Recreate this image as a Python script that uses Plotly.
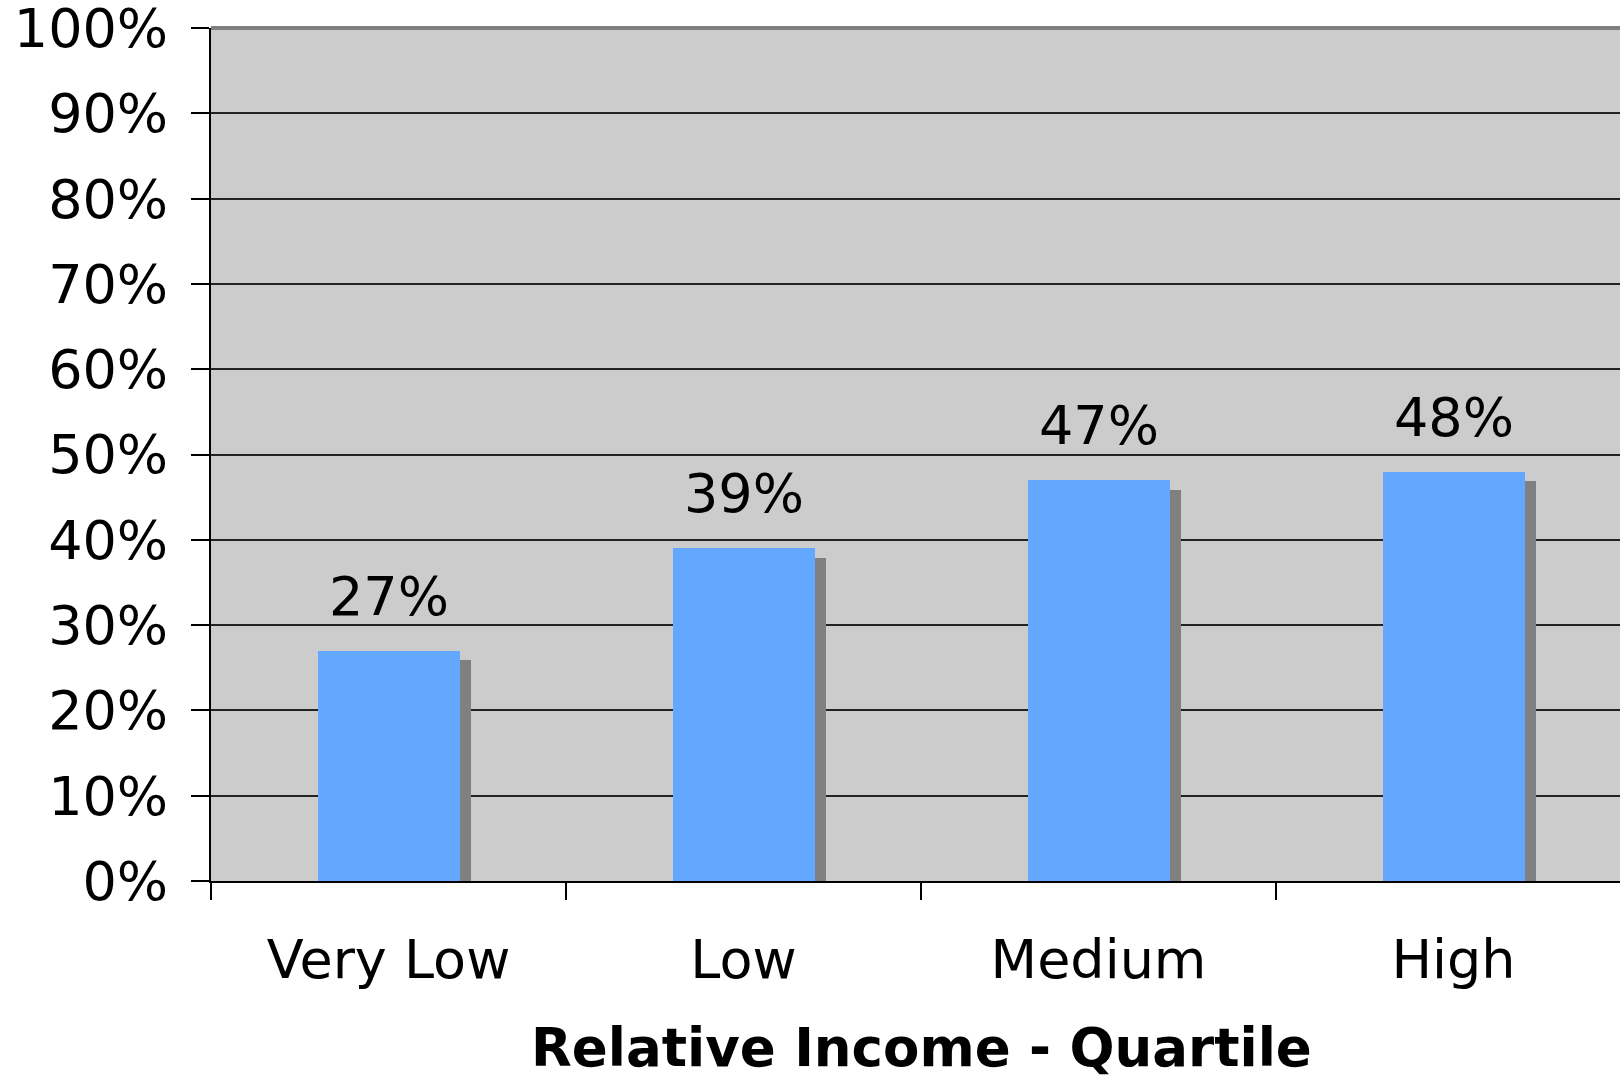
import plotly.graph_objects as go

# Share of respondents by relative income quartile
categories = ["Very Low", "Low", "Medium", "High"]
values = [27, 39, 47, 48]
y_ticks = list(range(0, 101, 10))

FONT = "DejaVu Sans, Verdana, sans-serif"
BAR_COLOR = "#63A8FE"
SHADOW_COLOR = "#808080"
BAR_WIDTH = 0.4
SHADOW_DX = 0.031      # horizontal shadow offset (category units)
SHADOW_DY = 1.1        # vertical shadow drop (percentage points)

fig = go.Figure()

# drop shadow behind each bar
fig.add_trace(go.Bar(
    x=categories,
    y=[v - SHADOW_DY for v in values],
    width=BAR_WIDTH,
    offset=-BAR_WIDTH / 2 + SHADOW_DX,
    marker=dict(color=SHADOW_COLOR, line=dict(width=0)),
    hoverinfo="skip",
    showlegend=False,
))

# main bars
fig.add_trace(go.Bar(
    x=categories,
    y=values,
    width=BAR_WIDTH,
    offset=-BAR_WIDTH / 2,
    marker=dict(color=BAR_COLOR, line=dict(width=0)),
    showlegend=False,
))

# value labels above bars
for c, v in zip(categories, values):
    fig.add_annotation(
        x=c, y=v, xref="x", yref="y",
        text=f"{v}%", showarrow=False,
        yanchor="bottom", yshift=21,
        font=dict(family=FONT, size=54, color="black"),
    )

# axis title
fig.add_annotation(
    x=1.5, y=-0.195, xref="x", yref="paper",
    text="<b>Relative Income - Quartile</b>", showarrow=False,
    yanchor="middle", xanchor="center",
    font=dict(family=FONT, size=53, color="black"),
)

# gray top border of plot area
fig.add_shape(
    type="line", xref="paper", yref="paper",
    x0=0, x1=1, y0=1, y1=1,
    line=dict(color="#808080", width=4),
)

fig.update_layout(
    width=1620, height=1078,
    margin=dict(l=211, r=0, t=28, b=197),
    paper_bgcolor="white",
    plot_bgcolor="#CCCCCC",
    barmode="overlay",
    bargap=0,
    font=dict(family=FONT, size=54, color="black"),
    xaxis=dict(
        type="category",
        range=[-0.5, 3.469],
        tickson="boundaries",
        ticks="outside", ticklen=17, tickwidth=1.5, tickcolor="black",
        showline=True, linecolor="black", linewidth=2,
        showgrid=False,
        automargin=False,
        tickfont=dict(family=FONT, size=54, color="black"),
        ticklabelstandoff=30,
    ),
    yaxis=dict(
        range=[0, 100.02],
        tickvals=y_ticks,
        ticktext=[f"{t}%" for t in y_ticks],
        ticks="outside", ticklen=18, tickwidth=1.5, tickcolor="black",
        showline=True, linecolor="black", linewidth=2,
        showgrid=True, gridcolor="#222222", gridwidth=1.5,
        zeroline=False,
        automargin=False,
        tickfont=dict(family=FONT, size=54, color="black"),
        ticklabelstandoff=12,
        ticklabeloverflow="allow",
    ),
)

fig.write_html("out.html")
